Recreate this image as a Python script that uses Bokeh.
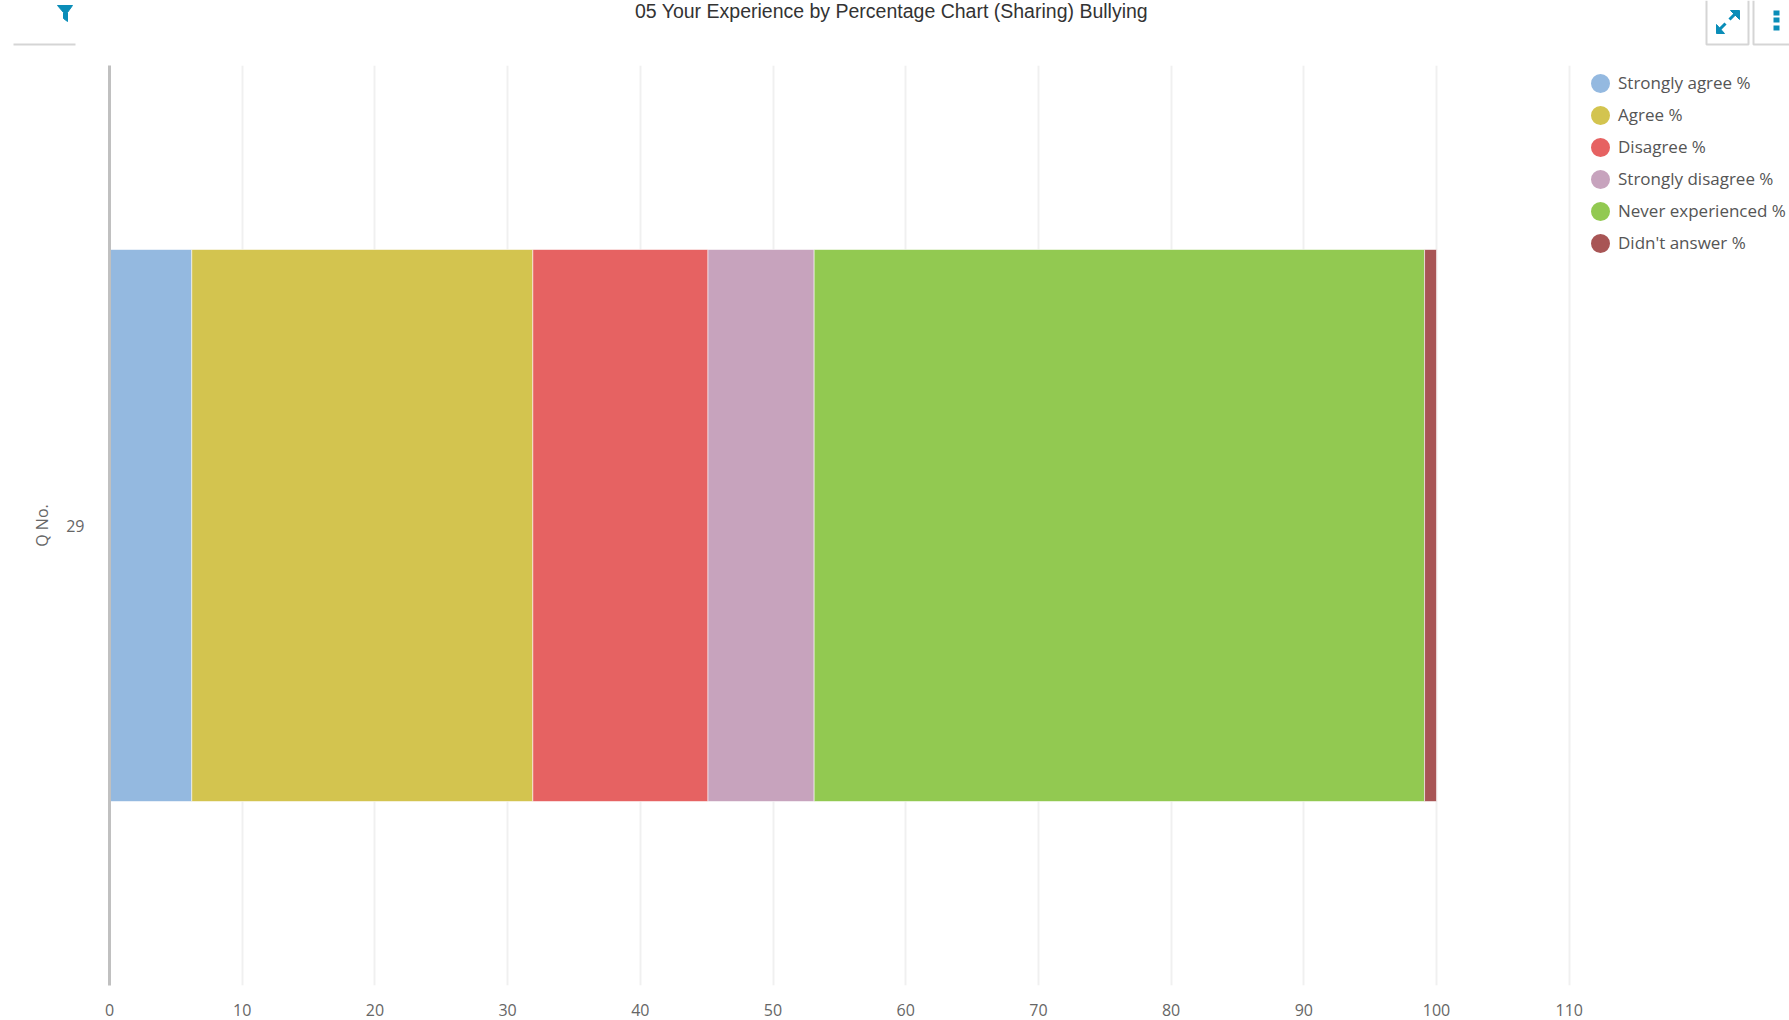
from bokeh.embed import file_html
from bokeh.resources import INLINE
from bokeh.core.properties import value
from bokeh.layouts import column
from bokeh.plotting import figure
from bokeh.models import Range1d, FactorRange, FixedTicker, Legend, LegendItem

question = ["29"]
series_names = ["Strongly agree %", "Agree %", "Disagree %", "Strongly disagree %",
                "Never experienced %", "Didn't answer %"]
series_values = [6.2, 25.7, 13.2, 8.0, 46.0, 0.9]
series_colors = ["#94B9E0", "#D3C44F", "#E66262", "#C7A3BD", "#92C951", "#A85555"]
x_ticks = [0, 10, 20, 30, 40, 50, 60, 70, 80, 90, 100, 110]
chart_title = ["05 Your Experience by Percentage Chart (Sharing) Bullying"]

LABEL = "#666666"
W, H = 1789, 1020
FL, FT, FB = 109, 65, 985
X_END = 126.6   # the plot area runs on under the legend, to the page edge
p = figure(width=W, height=H, output_backend="svg", toolbar_location=None,
           x_range=Range1d(0, X_END), y_range=FactorRange(factors=question),
           min_border_left=FL, min_border_right=0, min_border_top=FT,
           min_border_bottom=H - FB, frame_align=False,
           outline_line_color=None, background_fill_color="white", border_fill_color="white")
p.margin = (0, 0, 0, 0)

left = 0.0
items = []
for name, val, col in zip(series_names, series_values, series_colors):
    p.hbar(y=question, left=[left], right=[left + val], height=0.6, fill_color=col,
           line_color="#FFFFFF", line_alpha=0.55, line_width=1)
    dot = p.scatter(x=[float("nan")], y=question, marker="circle", fill_color=col,
                    line_color=col, line_width=11)
    items.append(LegendItem(label=name, renderers=[dot]))
    left += val

p.xaxis.ticker = FixedTicker(ticks=x_ticks)
p.xaxis.axis_line_color = None
p.xaxis.major_tick_line_color = None
p.xaxis.minor_tick_line_color = None
p.xaxis.major_label_text_font = "Open Sans"
p.xaxis.major_label_text_font_size = "16px"
p.xaxis.major_label_text_color = LABEL
p.xaxis.major_label_standoff = 12

p.yaxis.axis_label = "Q No."
p.yaxis.axis_label_text_font = "Open Sans"
p.yaxis.axis_label_text_font_style = "normal"
p.yaxis.axis_label_text_font_size = "16px"
p.yaxis.axis_label_text_color = LABEL
p.yaxis.axis_label_standoff = 10
p.yaxis.axis_line_color = "#C0C0C0"
p.yaxis.axis_line_width = 3
p.yaxis.major_tick_line_color = None
p.yaxis.minor_tick_line_color = None
p.yaxis.major_label_text_font = "Open Sans"
p.yaxis.major_label_text_font_size = "16px"
p.yaxis.major_label_text_color = LABEL
p.yaxis.major_label_standoff = 19

p.xgrid.grid_line_color = "#F0F0F0"
p.xgrid.grid_line_width = 2
p.xgrid.ticker = FixedTicker(ticks=x_ticks[1:])
p.ygrid.grid_line_color = None

legend = Legend(items=items, location=(1481, 731), orientation="vertical",
                glyph_width=20, glyph_height=20, spacing=9, label_standoff=8,
                padding=0, margin=0, border_line_color=None, background_fill_alpha=0,
                label_text_font="Open Sans", label_text_font_size="17px",
                label_text_color="#555555")
p.add_layout(legend, "center")

# title and page furniture above the chart: filter button, expand button, menu button
TEAL = "#0A8DB8"
q = figure(width=W, height=48, output_backend="svg", toolbar_location=None,
           x_range=Range1d(0, W), y_range=Range1d(48, 0), x_axis_type=None, y_axis_type=None,
           min_border=0, frame_align=False,
           outline_line_color=None, background_fill_color=None, border_fill_color=None)
q.margin = (-H, 0, 0, 0)
q.xgrid.visible = False
q.ygrid.visible = False
q.text(x=[891], y=[10.5], text=chart_title, text_align="center", text_baseline="middle",
       text_font=value("Liberation Sans"), text_font_size="19.5px", text_color="#333333")
q.multi_line(xs=[[13, 75], [1706, 1706, 1748, 1748], [1753, 1753, 1789]],
             ys=[[44, 44], [0, 44, 44, 0], [0, 44, 44]],
             line_color="#D5D5D5", line_width=2)
q.patch(x=[57, 72, 67, 67, 63, 63], y=[5, 5, 12, 21, 18, 12], fill_color=TEAL, line_color=TEAL, line_width=1)
q.segment(x0=[1718, 1729], y0=[30, 19], x1=[1725, 1736], y1=[23, 12], line_color=TEAL, line_width=3)
q.patch(x=[1716, 1716, 1724], y=[24, 33, 33], fill_color=TEAL, line_color=TEAL)
q.patch(x=[1730, 1739, 1739], y=[10, 10, 19], fill_color=TEAL, line_color=TEAL)
q.quad(left=[1773, 1773, 1773], right=[1779, 1779, 1779], top=[10, 17, 25], bottom=[15, 22, 30],
       fill_color=TEAL, line_color=None)

open("out.html", "w").write(file_html(column(p, q), INLINE))
